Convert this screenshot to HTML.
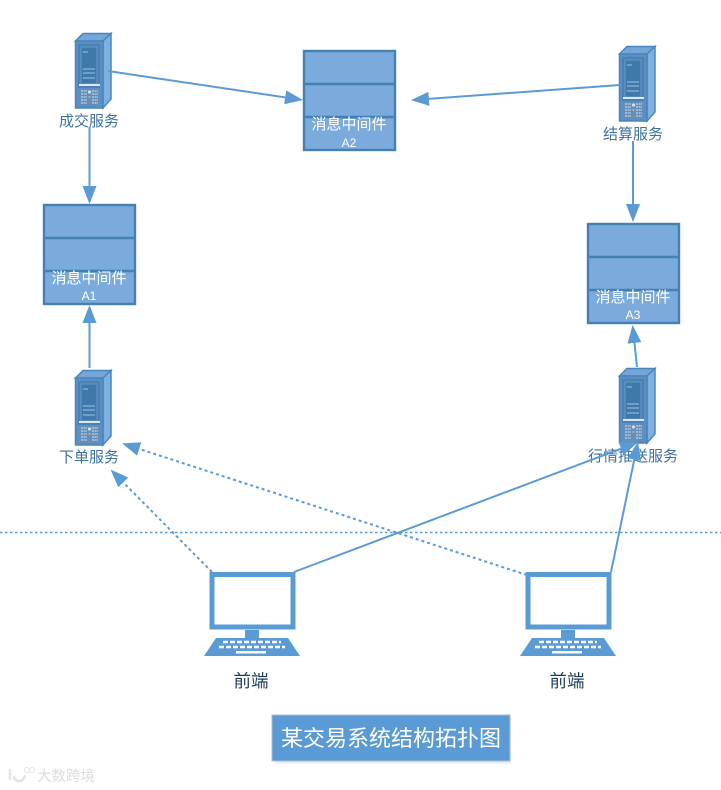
<!DOCTYPE html>
<html><head><meta charset="utf-8"><style>
html,body{margin:0;padding:0;background:#fff}
svg{display:block}
text{font-family:"Liberation Sans","Noto Sans CJK SC",sans-serif;text-anchor:middle}
.s{font-size:15px;fill:#3f719f}
.b{font-size:15px;fill:#fff}
.a{font-size:12px;fill:#fff}
.f{font-size:17.5px;fill:#1d3d5e}
</style></head><body>
<svg width="721" height="790" viewBox="0 0 721 790" xmlns="http://www.w3.org/2000/svg">
<defs>
<marker id="m" markerUnits="userSpaceOnUse" markerWidth="20" markerHeight="14" refX="16" refY="7" orient="auto"><path d="M0 0L18 7L0 14Z" fill="#5b9bd5"/></marker>
<g id="srv">
<path d="M0.500 9L8 1.500H36L28 9Z" fill="#74a6d9" stroke="#4a86bb" stroke-width="1.500"/>
<path d="M28 9L36 1.500V67L28 76Z" fill="#7fb0e0" stroke="#4a86bb" stroke-width="1.500"/>
<rect x="0.500" y="9" width="27.500" height="67" fill="#5a8fc5" stroke="#4a86bb" stroke-width="1.500"/>
<rect x="3" y="12" width="22" height="44" fill="#4a82b8"/>
<rect x="6" y="15" width="16" height="37" fill="#3f78ab" stroke="#7ba6cb" stroke-width=".7"/>
<path d="M8 20H13M8 37H20M8 41H20M8 46H20" stroke="#a5c5e0"/>
<rect x="4" y="52" width="21" height="2" fill="#dbe7f2"/>
<rect x="4" y="56" width="21" height="18" fill="#648fb8"/>
<path d="M6 59H12M17 59H23M6 62H12M17 62H23M6 65H12M17 65H23M6 68H12M17 68H23M6 71H12M17 71H23" stroke="#c5d2de" stroke-width="1.200" stroke-dasharray="2 .6"/>
<circle cx="14.500" cy="60" r="1.600" fill="#cfe0ef"/><circle cx="14.500" cy="65" r="1" fill="#8fd0b0"/>
</g>
<g id="mq">
<rect x="1" y="1" width="91" height="99" fill="#7baadc" stroke="#4580b5" stroke-width="2.400"/>
<path d="M1 34H92M1 67H92" stroke="#4580b5" stroke-width="2.400"/>
<text class="b" x="46" y="79">消息中间件</text>
</g>
<g id="pc">
<rect x="212" y="574.500" width="81" height="52.500" fill="#fff" stroke="#5b9bd5" stroke-width="5"/>
<rect x="245" y="630" width="14" height="8" fill="#5b9bd5"/>
<path d="M216 638H288L300 656H204Z" fill="#5b9bd5"/>
<path d="M223 642H281M219 647H285" stroke="#fff" stroke-width="2.500" stroke-dasharray="5 2"/>
<rect x="236" y="651" width="30" height="2.500" fill="#fff"/>
</g>
</defs>

<path d="M0 532.500H721" stroke="#5b9bd5" stroke-width="1.500" stroke-dasharray="2.500 2.500" fill="none"/>

<use href="#srv" x="75" y="32"/>
<use href="#srv" x="619" y="45"/>
<use href="#srv" x="75" y="369"/>
<use href="#srv" x="619" y="367"/>

<use href="#mq" x="303" y="50"/>
<use href="#mq" x="43" y="204"/>
<use href="#mq" x="587" y="223"/>
<text class="a" x="349" y="147">A2</text>
<text class="a" x="89" y="300">A1</text>
<text class="a" x="633" y="319">A3</text>

<text class="s" x="89" y="126">成交服务</text>
<text class="s" x="633" y="139">结算服务</text>
<text class="s" x="89" y="462">下单服务</text>
<text class="s" x="633" y="461">行情推送服务</text>

<use href="#pc"/>
<use href="#pc" x="316"/>
<text class="f" x="251" y="687">前端</text>
<text class="f" x="567" y="687">前端</text>

<g fill="none" stroke="#5b9bd5" stroke-width="2" marker-end="url(#m)">
<path d="M108 71L301 99.700"/>
<path d="M620 85L413 100"/>
<path d="M89.500 127V202"/>
<path d="M89.500 368V307"/>
<path d="M633 141V220"/>
<path d="M637 367L632.800 327"/>
<path d="M294 572L636 443"/>
<path d="M611 572L637.500 444"/>
<path d="M212 572L112 471" stroke-dasharray="3 3"/>
<path d="M527 575L124 444" stroke-dasharray="3 3"/>
</g>

<rect x="275" y="719" width="236" height="45" fill="#dce8f3" opacity=".6"/>
<rect x="272" y="715" width="238" height="46" fill="#5b9bd5" stroke="#a9bccd"/>
<text x="391" y="746" style="font-size:22px;fill:#fff">某交易系统结构拓扑图</text>

<path d="M10 769V780M14 776C14 783 24 783 25 775" fill="none" stroke="#e3e3e3" stroke-width="2.500"/>
<circle cx="27" cy="770" r="2.500" fill="none" stroke="#e3e3e3"/><circle cx="32" cy="770" r="2.500" fill="none" stroke="#e3e3e3"/>
<text x="66" y="781" style="font-size:14.500px;fill:#dcdcdc">大数跨境</text>
</svg>
</body></html>
